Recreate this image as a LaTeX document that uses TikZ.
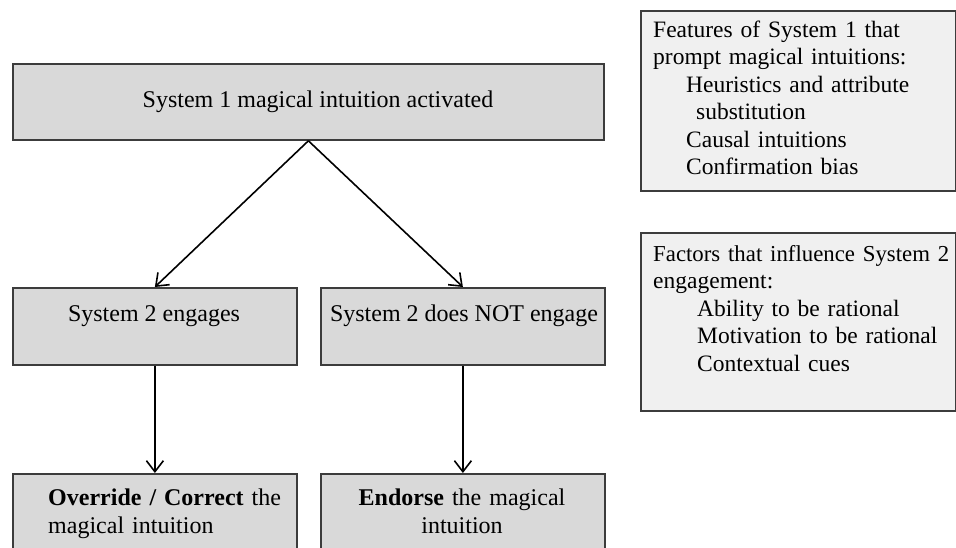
\documentclass[tikz,border=0pt]{standalone}
\usepackage{fontspec}
\setmainfont{Liberation Serif}
\usetikzlibrary{arrows.meta}
\definecolor{boxgray}{HTML}{D9D9D9}
\definecolor{panelgray}{HTML}{F0F0F0}
\definecolor{edgegray}{HTML}{3C3C3C}
\begin{document}
\begin{tikzpicture}[x=1pt,y=-1pt,
  flowbox/.style={draw=edgegray, line width=1.8pt, fill=boxgray, inner sep=0pt, anchor=north west},
  panel/.style={draw=edgegray, line width=1.8pt, fill=panelgray, inner sep=0pt, anchor=north west},
  txt/.style={inner sep=0pt, font=\fontsize{24}{28}\selectfont},
  ptxt/.style={inner sep=0pt, font=\fontsize{23.5}{27.5}\selectfont},
  conn/.style={line width=1.6pt, draw=black, -{Straight Barb[length=11pt,width=17pt]}}]
\useasboundingbox (0,0) rectangle (956,547);
\clip (0,0) rectangle (956,547);
% flow boxes
\node[flowbox, minimum width=591pt, minimum height=76pt] (top) at (12,63) {};
\node[flowbox, minimum width=284pt, minimum height=77pt] (m1) at (12,287) {};
\node[flowbox, minimum width=284pt, minimum height=77pt] (m2) at (320,287) {};
\node[flowbox, minimum width=284pt, minimum height=95pt] (b1) at (12,473) {};
\node[flowbox, minimum width=284pt, minimum height=95pt] (b2) at (320,473) {};
% side panels
\node[panel, minimum width=315pt, minimum height=180pt] (p1) at (640,10) {};
\node[panel, minimum width=315pt, minimum height=178pt] (p2) at (640,232) {};
% texts
\node[txt, anchor=base] (ttop) at (318,107) {System 1 magical intuition activated};
\node[txt, anchor=base] (tm1) at (154,321) {System 2 engages};
\node[txt, anchor=base] (tm2) at (464,321) {System 2 does NOT engage};
\node[txt, anchor=base west, text width=260pt, align=left] (tb1) at (48,505)
  {\textbf{Override / Correct} the\\magical intuition};
\node[txt, anchor=base, text width=284pt, align=center] (tb2) at (462,505)
  {\textbf{Endorse} the magical\\intuition};
\node[ptxt, anchor=base west, text width=296pt, align=left] (tp1) at (653,37)
  {Features of System 1 that\\
   prompt magical intuitions:\\
   \hspace*{33pt}Heuristics and attribute\\
   \hspace*{43pt}substitution\\
   \hspace*{33pt}Causal intuitions\\
   \hspace*{33pt}Confirmation bias};
\node[ptxt, anchor=base west, text width=296pt, align=left] (tp2) at (653,261)
  {\mbox{\fontsize{22.8}{27.5}\selectfont Factors that influence System 2}\\
   engagement:\\
   \hspace*{44pt}Ability to be rational\\
   \hspace*{44pt}Motivation to be rational\\
   \hspace*{44pt}Contextual cues};
% connectors
\draw[conn] (top.south) -- (m1.north);
\draw[conn] (top.south) -- (m2.north);
\draw[conn] (m1.south) -- (b1.north);
\draw[conn] (m2.south) -- (b2.north);
\end{tikzpicture}
\end{document}
